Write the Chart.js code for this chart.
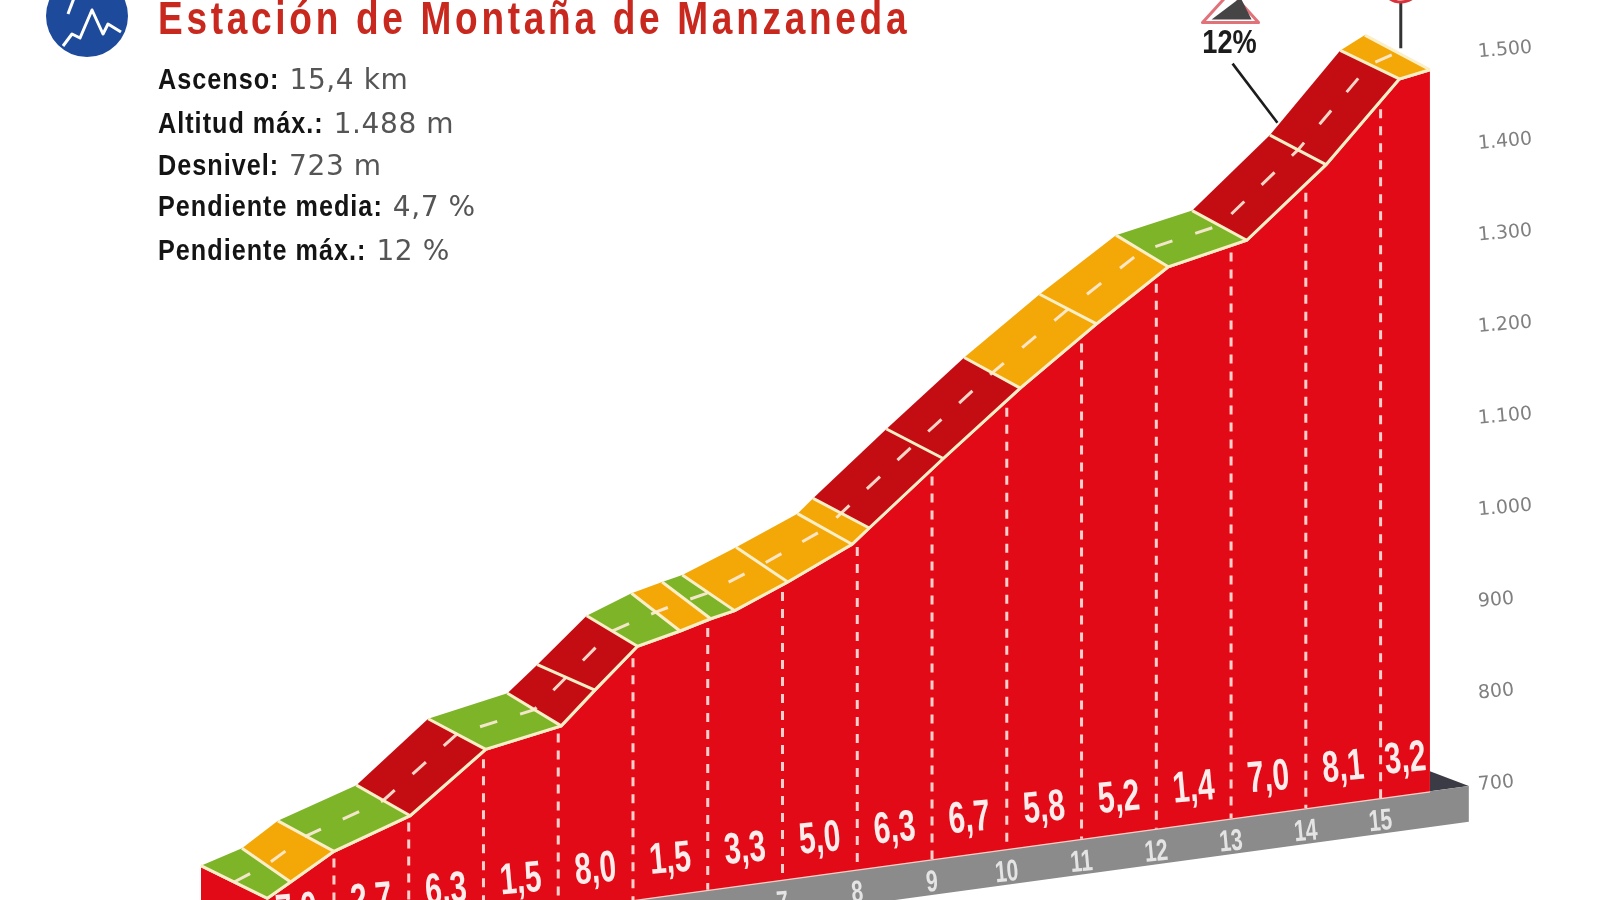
<!DOCTYPE html>
<html lang="es">
<head>
<meta charset="utf-8">
<title>Estación de Montaña de Manzaneda</title>
<script src="https://cdn.jsdelivr.net/npm/chart.js@4/dist/chart.umd.min.js"></script>
<style>html,body{margin:0;padding:0;background:#fff}canvas{display:block;filter:blur(0.6px)}</style>
</head>
<body>
<canvas id="c" width="1600" height="900"></canvas>
<script>
const titleText = 'Estación de Montaña de Manzaneda';
const statLabels = ['Ascenso:', 'Altitud máx.:', 'Desnivel:', 'Pendiente media:', 'Pendiente máx.:'];
const statValues = ['15,4 km', '1.488 m', '723 m', '4,7 %', '12 %'];

// Road front edge breakpoints: km and altitude
const frontKm  = [0.11,0.42,1.00,2.02,3.03,4.04,4.49,5.06,5.63,6.04,6.36,7.07,7.93,8.16,9.15,10.18,11.20,12.16,13.21,14.27,15.25,15.66];
const frontAlt = [756.4,770.7,797.7,825.3,886.5,900.9,934.9,976.4,986.8,995.6,1000.9,1024.2,1055.9,1071.1,1135.9,1201.3,1260.1,1311.8,1329,1399.7,1482.4,1487.9];
// Road far edge breakpoints
const backKm  = [-0.78,-0.23,0.25,1.30,2.26,3.32,3.72,4.38,4.98,5.39,5.66,6.38,7.20,7.41,8.39,9.43,10.44,11.46,12.48,13.52,14.46,14.79];
const backAlt = [801.9,814.8,839.4,866.7,928.5,944.5,971.3,1017.4,1035.2,1043,1047.7,1069.8,1097.4,1111.8,1176.6,1243.1,1300.9,1354.1,1369.5,1440.4,1522.4,1535.4];
// Gradient class of each road stretch: g = easy, o = medium, r = hard
const bandClass = ['g','o','g','r','g','r','r','g','o','g','o','o','o','r','r','o','o','g','r','r','o'];

const kmMarks   = [1,2,3,4,5,6,7,8,9,10,11,12,13,14,15];
const kmTopAlt  = [790,818,876,893,964,986,1014,1052,1118,1182,1241,1295,1318,1372,1452];
const kmLabels  = [7,8,9,10,11,12,13,14,15];
const gradKm    = [0.5,1.5,2.5,3.5,4.5,5.5,6.5,7.5,8.5,9.5,10.5,11.5,12.5,13.5,14.5,15.33];
const gradLabel = ['7,0','2,7','6,3','1,5','8,0','1,5','3,3','5,0','6,3','6,7','5,8','5,2','1,4','7,0','8,1','3,2'];

const altTicks  = [700,800,900,1000,1100,1200,1300,1400,1500];
const plinthKm  = [-0.78,16.18];
const plinthTopAlt = 700;
const plinthLowAlt = 661;

const leader12 = {km:[13.02,13.62], alt:[1524,1452.7]};
const leaderTop = {km:[15.27,15.27], alt:[1575,1515.6]};

const KM_REF = 16.27, SHEAR = 11.14;                 // oblique floor, m per km
const app = (km, alt) => alt - SHEAR * (KM_REF - km);
const pt = (km, alt) => ({x: km, y: app(km, alt)});

const COL = {g:'#7DB428', o:'#F4A808', r:'#C40D12', face:'#E30A17', cream:'#FBEFC8', pink:'#FBCFC8', grey:'#8B8B8B', dark:'#3A3B44'};

const datasets = [];
const add = (o) => { o.order = -datasets.length; datasets.push(Object.assign({showLine:true, pointRadius:0, pointHoverRadius:0, tension:0, fill:false, borderWidth:0}, o)); return datasets.length - 1; };

// plinth
add({label:'plinth back', polygon:COL.dark, data:[pt(15.66,722), pt(16.18,plinthTopAlt), pt(15.66,plinthTopAlt)]});
add({label:'plinth', polygon:COL.grey, data:[pt(plinthKm[0],plinthTopAlt), pt(plinthKm[1],plinthTopAlt), pt(plinthKm[1],plinthLowAlt), pt(plinthKm[0],plinthLowAlt)]});
const baseIdx = add({label:'floor', borderColor:COL.pink, borderWidth:2.5, data:[pt(backKm[0],plinthTopAlt), pt(frontKm[21],plinthTopAlt)]});
// mountain face
const faceData = [pt(backKm[0],backAlt[0])].concat(frontKm.map((k,i)=>pt(k,frontAlt[i])));
add({label:'Altitud', data:faceData, fill:{target:baseIdx}, backgroundColor:COL.face, borderColor:COL.cream, borderWidth:3});
// km separators
const kmData = [];
kmMarks.forEach((k,i)=>{ kmData.push(pt(k,kmTopAlt[i]), pt(k,700), {x:k,y:null}); });
add({label:'km', data:kmData, borderColor:'#FFD0CC', borderWidth:3, borderDash:[9,8], spanGaps:false});
// road bands
bandClass.forEach((c,i)=>{
  add({label:'tramo '+(i+1), polygon:COL[c], data:[pt(frontKm[i],frontAlt[i]), pt(frontKm[i+1],frontAlt[i+1]), pt(backKm[i+1],backAlt[i+1]), pt(backKm[i],backAlt[i])]});
});
// road centre line
add({label:'centro', data:frontKm.map((k,i)=>pt((k+backKm[i])/2,(frontAlt[i]+backAlt[i])/2)), borderColor:'rgba(255,236,220,.9)', borderWidth:3, borderDash:[18,24]});
// cross lines and front edge
const rungs = [];
frontKm.forEach((k,i)=>{ rungs.push(pt(k,frontAlt[i]), pt(backKm[i],backAlt[i]), {x:k,y:null}); });
add({label:'cortes', data:rungs, borderColor:COL.cream, borderWidth:3, spanGaps:false});
add({label:'borde', data:frontKm.map((k,i)=>pt(k,frontAlt[i])), borderColor:COL.cream, borderWidth:3});
// call-outs
add({label:'12%', data:leader12.km.map((k,i)=>pt(k,leader12.alt[i])), borderColor:'#1c1c1c', borderWidth:2.6});
add({label:'meta', data:leaderTop.km.map((k,i)=>pt(k,leaderTop.alt[i])), borderColor:'#333', borderWidth:3});

const polygonPlugin = {
  id:'polygonFill',
  beforeDatasetDraw(chart, args){
    const ds = chart.data.datasets[args.index];
    if (!ds.polygon) return;
    const pts = args.meta.data, ctx = chart.ctx;
    ctx.save();
    ctx.beginPath();
    pts.forEach((p,i)=> i ? ctx.lineTo(p.x,p.y) : ctx.moveTo(p.x,p.y));
    ctx.closePath();
    ctx.fillStyle = ds.polygon;
    ctx.fill();
    ctx.restore();
  }
};

function text(ctx, s, x, y, font, color, opt){
  opt = opt || {};
  const sx = opt.sx || 1;
  ctx.save();
  ctx.translate(x,y);
  if (opt.rot) ctx.rotate(opt.rot);
  ctx.scale(sx,1);
  ctx.font = font;
  ctx.fillStyle = color;
  ctx.textAlign = opt.align || 'left';
  ctx.textBaseline = opt.base || 'alphabetic';
  if (opt.spacing) ctx.letterSpacing = opt.spacing;
  ctx.fillText(s,0,0);
  const w = ctx.measureText(s).width * sx;
  ctx.restore();
  return w;
}

const decorPlugin = {
  id:'decor',
  afterDatasetsDraw(chart){
    const ctx = chart.ctx, X = chart.scales.x, Y = chart.scales.y;
    const px = (km,alt)=>[X.getPixelForValue(km), Y.getPixelForValue(app(km,alt))];
    const SANS = '"Liberation Sans",sans-serif';
    // gradient numbers
    gradLabel.forEach((s,i)=>{
      const [x,y] = px(gradKm[i],738);
      text(ctx,s,x,y,'bold 44px '+SANS,'#FDECEC',{align:'center',base:'middle',rot:-0.09,sx:0.68});
    });
    // km numbers on the floor
    kmLabels.forEach((k)=>{
      const [x,y] = px(k,674);
      text(ctx,String(k),x,y,'bold 30px '+SANS,'#E4E4E4',{align:'center',base:'middle',rot:-0.09,sx:0.7});
    });
    // title
    text(ctx,titleText,158,34,'bold 46px '+SANS,'#C8281E',{spacing:'4.6px',sx:0.805});
    // stats
    const ys = [89,133,175,216,260];
    statLabels.forEach((l,i)=>{
      const w = text(ctx,l,158,ys[i],'bold 30px '+SANS,'#141414',{spacing:'1.2px',sx:0.84});
      text(ctx,statValues[i],158+w+10,ys[i],'28px "DejaVu Sans",sans-serif','#555',{spacing:'0.6px'});
    });
    // logo
    ctx.save();
    ctx.beginPath(); ctx.arc(87,16,41,0,Math.PI*2); ctx.fillStyle='#1E4A9B'; ctx.fill();
    ctx.clip();
    ctx.strokeStyle='#fff'; ctx.lineWidth=3; ctx.lineJoin='round';
    ctx.beginPath();
    [[63,46],[72,34],[80,38],[92,10],[103,34],[108,24],[121,32]].forEach((p,i)=> i?ctx.lineTo(p[0],p[1]):ctx.moveTo(p[0],p[1]));
    ctx.stroke();
    ctx.beginPath(); ctx.moveTo(68,14); ctx.lineTo(74,-2); ctx.stroke();
    ctx.restore();
    // triangle sign
    const [tx,ty] = px(leader12.km[0],leader12.alt[0]);
    ctx.save();
    ctx.translate(tx,ty);
    ctx.beginPath(); ctx.moveTo(-2,-72); ctx.lineTo(-30,-41); ctx.lineTo(26,-41); ctx.closePath();
    ctx.fillStyle='#fff'; ctx.fill();
    ctx.strokeStyle='#E2727A'; ctx.lineWidth=3; ctx.lineJoin='round'; ctx.stroke();
    ctx.beginPath(); ctx.moveTo(-21,-44); ctx.lineTo(8,-66); ctx.lineTo(19,-44); ctx.closePath();
    ctx.fillStyle='#454545'; ctx.fill();
    ctx.restore();
    text(ctx,'12%',tx-3,ty-20,'bold 34px '+SANS,'#1c1c1c',{align:'center',base:'middle',sx:0.8});
    // finish marker
    const [fx] = px(leaderTop.km[0],leaderTop.alt[0]);
    ctx.save();
    ctx.beginPath(); ctx.arc(fx,-18,20,0,Math.PI*2);
    ctx.fillStyle='#fff'; ctx.fill();
    ctx.strokeStyle='#D8333C'; ctx.lineWidth=3; ctx.stroke();
    ctx.restore();
  }
};

new Chart(document.getElementById('c'),{
  type:'scatter',
  data:{datasets},
  options:{
    responsive:false,
    animation:false,
    events:[],
    layout:{padding:0},
    plugins:{legend:{display:false},title:{display:false},tooltip:{enabled:false}},
    scales:{
      x:{type:'linear',display:false,min:-3.467,max:16.196},
      y:{
        type:'linear',position:'right',min:574.52,max:1557.26,
        grid:{display:false},border:{display:false},
        afterFit(s){ s.width = 130; s.paddingTop = 0; s.paddingBottom = 0; },
        afterBuildTicks(s){ s.ticks = altTicks.map(v=>({value:v})); },
        ticks:{
          minRotation:5,maxRotation:5,padding:0,color:'#808080',
          font:{family:'"DejaVu Sans",sans-serif',size:19},
          callback:(v)=> v>=1000 ? Math.floor(v/1000)+'.'+String(v%1000).padStart(3,'0') : String(v)
        }
      }
    }
  },
  plugins:[polygonPlugin,decorPlugin]
});
</script>
</body>
</html>
